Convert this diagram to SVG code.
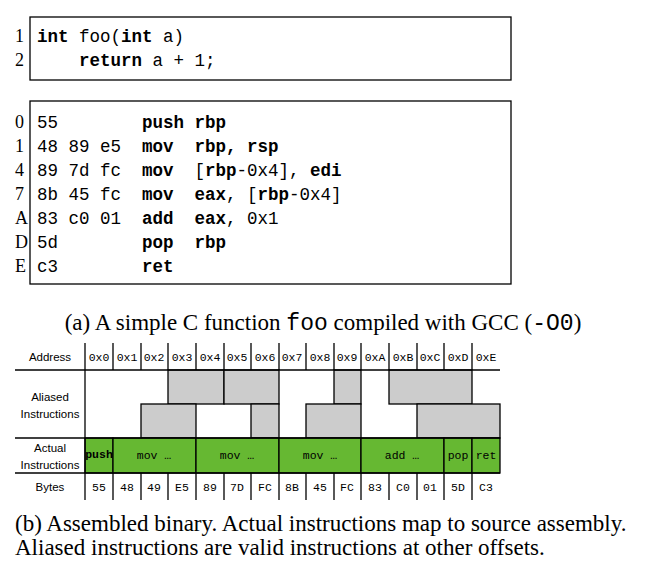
<svg xmlns="http://www.w3.org/2000/svg" width="646" height="572" viewBox="0 0 646 572">
<style>
.m{font-family:"Liberation Mono",monospace;font-size:17.5px;fill:#000;white-space:pre}
.b{font-weight:bold}
.n{font-family:"Liberation Serif",serif;font-size:18px;fill:#000}
.s{font-family:"Liberation Sans",sans-serif;font-size:11.5px;fill:#000;text-anchor:middle}
.h{font-family:"Liberation Mono",monospace;font-size:11.5px;fill:#000;text-anchor:middle;white-space:pre}
.g{fill:#cccccc;stroke:#000;stroke-width:1.3}
.a{fill:#66b832;stroke:#000;stroke-width:1.3}
.l{stroke:#000;stroke-width:1.3;fill:none}
.c{font-family:"Liberation Serif",serif;font-size:23px;fill:#000}
.cm{font-family:"Liberation Mono",monospace}
</style>
<rect width="646" height="572" fill="#fff"/>
<g id="source">
<rect x="30" y="17" width="481" height="63" fill="none" stroke="#000" stroke-width="1.3"/>
<text class="n" x="15" y="42">1</text><text class="n" x="15" y="66">2</text>
<text class="m" x="37" y="42"><tspan class="b">int</tspan> foo(<tspan class="b">int</tspan> a)</text>
<text class="m" x="37" y="66" xml:space="preserve">    <tspan class="b">return</tspan> a + 1;</text>
</g>
<g id="assembly">
<rect x="30" y="101" width="481" height="183" fill="none" stroke="#000" stroke-width="1.3"/>
<g class="n">
<text x="15" y="128">0</text><text x="15" y="152">1</text><text x="15" y="176">4</text><text x="15" y="200">7</text><text x="15" y="224">A</text><text x="15" y="248">D</text><text x="15" y="272">E</text>
</g>
<text class="m" x="37" y="128" xml:space="preserve">55        <tspan class="b">push rbp</tspan></text>
<text class="m" x="37" y="152" xml:space="preserve">48 89 e5  <tspan class="b">mov  rbp, rsp</tspan></text>
<text class="m" x="37" y="176" xml:space="preserve">89 7d fc  <tspan class="b">mov</tspan>  [<tspan class="b">rbp</tspan>-0x4], <tspan class="b">edi</tspan></text>
<text class="m" x="37" y="200" xml:space="preserve">8b 45 fc  <tspan class="b">mov</tspan>  <tspan class="b">eax</tspan>, [<tspan class="b">rbp</tspan>-0x4]</text>
<text class="m" x="37" y="224" xml:space="preserve">83 c0 01  <tspan class="b">add</tspan>  <tspan class="b">eax</tspan>, 0x1</text>
<text class="m" x="37" y="248" xml:space="preserve">5d        <tspan class="b">pop  rbp</tspan></text>
<text class="m" x="37" y="272" xml:space="preserve">c3        <tspan class="b">ret</tspan></text>
</g>
<text class="c" x="323" y="330" text-anchor="middle">(a) A simple C function <tspan class="cm">foo</tspan> compiled with GCC (<tspan class="cm">-O0</tspan>)</text>
<g id="table">
<g id="labels">
<text class="s" x="50" y="361">Address</text>
<text class="s" x="50" y="401">Aliased</text><text class="s" x="50" y="418">Instructions</text>
<text class="s" x="50" y="452">Actual</text><text class="s" x="50" y="469">Instructions</text>
<text class="s" x="50" y="491">Bytes</text>
</g>
<g id="aliased">
<rect class="g" x="168" y="370" width="56" height="34"/>
<rect class="g" x="224" y="370" width="55" height="34"/>
<rect class="g" x="334" y="370" width="27" height="34"/>
<rect class="g" x="389" y="370" width="83" height="34"/>
<rect class="g" x="141" y="404" width="55" height="34"/>
<rect class="g" x="251" y="404" width="28" height="34"/>
<rect class="g" x="306" y="404" width="55" height="34"/>
<rect class="g" x="417" y="404" width="83" height="34"/>
</g>
<g id="actual">
<rect class="a" x="85" y="438" width="28" height="35"/>
<rect class="a" x="113" y="438" width="83" height="35"/>
<rect class="a" x="196" y="438" width="83" height="35"/>
<rect class="a" x="279" y="438" width="82" height="35"/>
<rect class="a" x="361" y="438" width="83" height="35"/>
<rect class="a" x="444" y="438" width="28" height="35"/>
<rect class="a" x="472" y="438" width="28" height="35"/>
<text class="h" x="99" y="458" font-size="6" font-weight="bold">push</text>
<text class="h" x="154" y="459" xml:space="preserve">mov …</text>
<text class="h" x="237" y="459" xml:space="preserve">mov …</text>
<text class="h" x="320" y="459" xml:space="preserve">mov …</text>
<text class="h" x="402" y="459" xml:space="preserve">add …</text>
<text class="h" x="458" y="459">pop</text>
<text class="h" x="486" y="459">ret</text>
</g>
<g id="grid">
<line class="l" x1="15" y1="370" x2="500" y2="370"/>
<line class="l" x1="15" y1="438" x2="500" y2="438"/>
<line class="l" x1="15" y1="473" x2="500" y2="473"/>
<line class="l" x1="85" y1="343" x2="85" y2="500"/>
<path class="l" d="M113 343V370M141 343V370M168 343V370M196 343V370M224 343V370M251 343V370M279 343V370M306 343V370M334 343V370M361 343V370M389 343V370M417 343V370M444 343V370M472 343V370M113 473V500M141 473V500M168 473V500M196 473V500M224 473V500M251 473V500M279 473V500M306 473V500M334 473V500M361 473V500M389 473V500M417 473V500M444 473V500M472 473V500"/>
</g>
<g class="h">
<text x="99" y="361">0x0</text><text x="127" y="361">0x1</text><text x="154" y="361">0x2</text><text x="182" y="361">0x3</text><text x="210" y="361">0x4</text><text x="237" y="361">0x5</text><text x="265" y="361">0x6</text><text x="292" y="361">0x7</text><text x="320" y="361">0x8</text><text x="347" y="361">0x9</text><text x="375" y="361">0xA</text><text x="403" y="361">0xB</text><text x="430" y="361">0xC</text><text x="458" y="361">0xD</text><text x="486" y="361">0xE</text>
<text x="99" y="491">55</text><text x="127" y="491">48</text><text x="154" y="491">49</text><text x="182" y="491">E5</text><text x="210" y="491">89</text><text x="237" y="491">7D</text><text x="265" y="491">FC</text><text x="292" y="491">8B</text><text x="320" y="491">45</text><text x="347" y="491">FC</text><text x="375" y="491">83</text><text x="403" y="491">C0</text><text x="430" y="491">01</text><text x="458" y="491">5D</text><text x="486" y="491">C3</text>
</g>
</g>
<text class="c" x="15" y="531">(b) Assembled binary. Actual instructions map to source assembly.</text>
<text class="c" x="15" y="555">Aliased instructions are valid instructions at other offsets.</text>
</svg>
